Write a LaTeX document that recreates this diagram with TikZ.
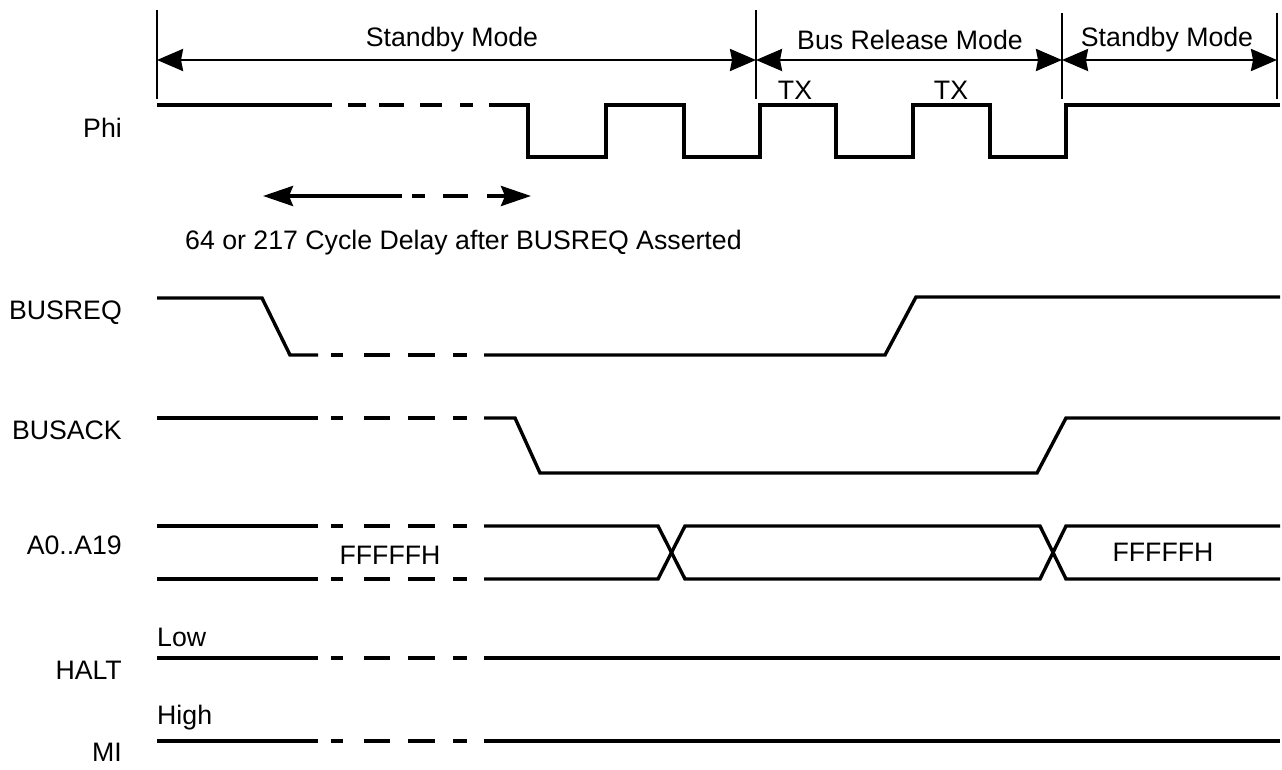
\documentclass[tikz,border=0pt]{standalone}
\usepackage{fontspec}
\setmainfont{Liberation Sans}
\usetikzlibrary{arrows.meta}
\tikzset{
  dimarr/.style={line width=2.6pt, {Stealth[length=26pt,width=22pt,inset=2pt]}-{Stealth[length=26pt,width=22pt,inset=2pt]}},
  delayL/.style={line width=3.6pt, {Stealth[length=30pt,width=20pt,inset=4pt]}-},
  delayR/.style={line width=3.6pt, -{Stealth[length=30pt,width=20pt,inset=4pt]}},
}
\begin{document}
\begin{tikzpicture}[x=1pt,y=-1pt,
  wave/.style={line width=3.4pt},
  dim/.style={line width=2.6pt},
  delayln/.style={line width=3.6pt},
  lbl/.style={font=\fontsize{26.7}{30}\selectfont, inner sep=0pt},
  sig/.style={lbl, anchor=east},
]
\useasboundingbox (0,0) rectangle (1282,770);
% mode bars
\foreach \x/\t in {157/10,756/10,1062/13,1277/13}
  \draw[dim] (\x,\t) -- (\x,99);
\coordinate (b1) at (157,60); \coordinate (b2) at (756,60);
\coordinate (b3) at (1062,60); \coordinate (b4) at (1277,60);
\draw[dimarr] (b1) -- (b2);
\draw[dimarr] (b2) -- (b3);
\draw[dimarr] (b3) -- (b4);
\node[lbl] (m1) at (452,40) {Standby Mode};
\node[lbl] (m2) at (910,40) {Bus Release Mode};
\node[lbl] (m3) at (1167,40) {Standby Mode};
\node[lbl] (tx1) at (795,90) {TX};
\node[lbl] (tx2) at (951,90) {TX};
% signal names
\node[sig] (nphi) at (122,128) {Phi};
\node[sig] (nbreq) at (122,313) {BUSREQ};
\node[sig] (nback) at (122,430) {BUSACK};
\node[sig] (naddr) at (122,545) {A0..A19};
\node[sig] (nhalt) at (122,670) {HALT};
\node[sig] (nmi) at (122,752) {MI};
\node[lbl, anchor=west] (low) at (157,637) {Low};
\node[lbl, anchor=west] (high) at (157,718) {High};
\node[lbl] (f1) at (390,555) {FFFFFH};
\node[lbl] (f2) at (1163,552) {FFFFFH};
\node[lbl, anchor=west] (delay) at (185,243) {64 or 217 Cycle Delay after BUSREQ Asserted};
% Phi
\draw[wave] (157,105) -- (332,105);
\foreach \a/\b in {348/366,379/404,420/442,460/473}
  \draw[wave] (\a,105) -- (\b,105);
\draw[wave] (489,105) -- (528,105) -- (528,157) -- (606,157) -- (606,105) -- (684,105) -- (684,157) -- (760,157) -- (760,105) -- (836,105) -- (836,157) -- (913,157) -- (913,105) -- (990,105) -- (990,157) -- (1066,157) -- (1066,105) -- (1280,105);
% delay arrow
\coordinate (d1) at (263,196); \coordinate (d2) at (402,196);
\coordinate (d3) at (487,196); \coordinate (d4) at (531,196);
\draw[delayL] (d1) -- (d2);
\draw[delayln] (412,196) -- (425,196);
\draw[delayln] (443,196) -- (468,196);
\draw[delayR] (d3) -- (d4);
% gap dashes for other rows
\foreach \y in {355,418,526,579,658,741}
  \foreach \a/\b in {331/343,364/390,408/435,453/467}
    \draw[wave] (\a,\y) -- (\b,\y);
% BUSREQ
\draw[wave] (157,298) -- (262,298) -- (290,355) -- (318,355);
\draw[wave] (484,355) -- (885,355) -- (916,297) -- (1280,297);
% BUSACK
\draw[wave] (157,418) -- (318,418);
\draw[wave] (484,418) -- (515,418) -- (540,473) -- (1037,473) -- (1066,418) -- (1280,418);
% Address
\draw[wave] (157,526) -- (318,526);
\draw[wave] (157,579) -- (318,579);
\draw[wave] (484,526) -- (658,526) -- (685,579) -- (1040,579) -- (1066,526) -- (1280,526);
\draw[wave] (484,579) -- (658,579) -- (685,526) -- (1040,526) -- (1066,579) -- (1280,579);
% HALT, MI
\draw[wave] (157,658) -- (318,658);
\draw[wave] (484,658) -- (1280,658);
\draw[wave] (157,741) -- (318,741);
\draw[wave] (484,741) -- (1280,741);
\end{tikzpicture}
\end{document}
